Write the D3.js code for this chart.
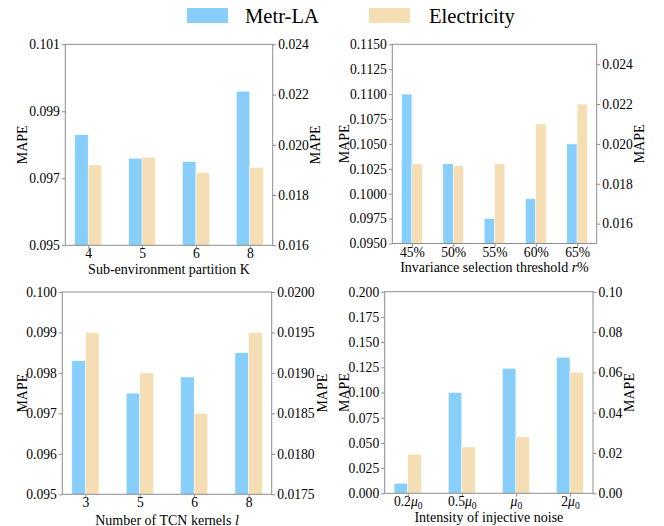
<!DOCTYPE html>
<html>
<head>
<meta charset="utf-8">
<script src="https://cdn.jsdelivr.net/npm/d3@7"></script>
<style>
  body { margin: 0; background: #fff; }
  svg text { font-family: "Liberation Serif", "Times New Roman", serif; fill: #000; }
</style>
</head>
<body>
<svg id="chart" width="664" height="526"></svg>
<script>
// ── Data ──
const seriesNames = ['Metr-LA', 'Electricity'];

const partitionCats = ['4', '5', '6', '8'];
const partitionMetr = [0.0983, 0.0976, 0.0975, 0.0996];
const partitionElec = [0.0192, 0.0195, 0.0189, 0.0191];

const thresholdCats = ['45%', '50%', '55%', '60%', '65%'];
const thresholdMetr = [0.1100, 0.1030, 0.0975, 0.0995, 0.1050];
const thresholdElec = [0.0190, 0.0189, 0.0190, 0.0210, 0.0220];

const kernelCats = ['3', '5', '6', '8'];
const kernelMetr = [0.0983, 0.0975, 0.0979, 0.0985];
const kernelElec = [0.0195, 0.0190, 0.0185, 0.0195];

const noiseCats = ['0.2μ0', '0.5μ0', 'μ0', '2μ0'];
const noiseMetr = [0.010, 0.100, 0.124, 0.135];
const noiseElec = [0.0193, 0.023, 0.028, 0.060];

// axis ticks
const partitionLeftTicks = [0.095, 0.097, 0.099, 0.101];
const partitionRightTicks = [0.016, 0.018, 0.020, 0.022, 0.024];
const thresholdLeftTicks = [0.0950, 0.0975, 0.1000, 0.1025, 0.1050, 0.1075, 0.1100, 0.1125, 0.1150];
const thresholdRightTicks = [0.016, 0.018, 0.020, 0.022, 0.024];
const kernelLeftTicks = [0.095, 0.096, 0.097, 0.098, 0.099, 0.100];
const kernelRightTicks = [0.0175, 0.0180, 0.0185, 0.0190, 0.0195, 0.0200];
const noiseLeftTicks = [0.000, 0.025, 0.050, 0.075, 0.100, 0.125, 0.150, 0.175, 0.200];
const noiseRightTicks = [0.00, 0.02, 0.04, 0.06, 0.08, 0.10];

const COLORS = ['#87CEFA', '#F5DEB3'];
const SPINE = '#8c8c8c';

const svg = d3.select('#chart');

// ── Legend ──
const legend = svg.append('g');
const legendPos = [{ x: 187, tx: 245 }, { x: 369, tx: 429 }];
seriesNames.forEach((name, i) => {
  legend.append('rect')
    .attr('x', legendPos[i].x).attr('y', 8)
    .attr('width', 41).attr('height', 15)
    .attr('fill', COLORS[i]);
  legend.append('text')
    .attr('x', legendPos[i].tx).attr('y', 22.5)
    .attr('font-size', '20.6px')
    .text(name);
});

// ── Panels ──
function drawPanel(p) {
  const n = p.cats.length;
  const width = p.x1 - p.x0;
  const height = p.y1 - p.y0;
  const g = svg.append('g').attr('transform', `translate(${p.x0},${p.y0})`);

  // matplotlib-like margins: bars of width .25 each side, 5% padding
  const pad = 0.25 + 0.05 * (n - 0.5);
  const x = d3.scalePoint().domain(d3.range(n)).range([0, width]).padding(pad);
  const bw = x.step() * 0.25;

  const yL = d3.scaleLinear().domain(p.leftDomain).range([height, 0]);
  const yR = d3.scaleLinear().domain(p.rightDomain).range([height, 0]);

  // Bars
  g.selectAll('.metr')
    .data(p.metr)
    .enter().append('rect')
    .attr('x', (d, i) => x(i) - bw)
    .attr('y', d => yL(d))
    .attr('width', bw)
    .attr('height', d => height - yL(d))
    .attr('fill', COLORS[0])
    .attr('stroke', '#fff').attr('stroke-width', 0.5);

  g.selectAll('.elec')
    .data(p.elec)
    .enter().append('rect')
    .attr('x', (d, i) => x(i))
    .attr('y', d => yR(d))
    .attr('width', bw)
    .attr('height', d => height - yR(d))
    .attr('fill', COLORS[1])
    .attr('stroke', '#fff').attr('stroke-width', 0.5);

  // Axes
  const left = g.append('g')
    .call(d3.axisLeft(yL).tickValues(p.leftTicks).tickFormat(d3.format(p.leftFmt)).tickSize(3.5).tickPadding(2));
  const right = g.append('g')
    .attr('transform', `translate(${width},0)`)
    .call(d3.axisRight(yR).tickValues(p.rightTicks).tickFormat(d3.format(p.rightFmt)).tickSize(3.5).tickPadding(2));
  const bottom = g.append('g')
    .attr('transform', `translate(0,${height})`)
    .call(d3.axisBottom(x).tickSize(3.5).tickPadding(0).tickFormat(i => p.cats[i]));

  [left, right, bottom].forEach(ax => {
    ax.selectAll('.domain').remove();
    ax.selectAll('line').attr('stroke', SPINE);
    ax.selectAll('text').attr('font-size', '13.6px').attr('fill', '#000')
      .style('font-family', '"Liberation Serif", "Times New Roman", serif');
  });

  if (p.mathTicks) {
    bottom.selectAll('text').each(function (d) {
      const t = d3.select(this);
      const pre = p.cats[d].replace('μ0', '');
      t.text(null);
      t.append('tspan').text(pre);
      t.append('tspan').attr('font-style', 'italic').text('μ');
      t.append('tspan').attr('font-size', '9.5px').attr('dy', 2.5).text('0');
    });
  }

  // Spines
  g.append('rect')
    .attr('width', width).attr('height', height)
    .attr('fill', 'none').attr('stroke', SPINE).attr('stroke-width', 1);

  // Axis titles
  g.append('text')
    .attr('transform', `translate(${p.leftLabelX - p.x0},${height / 2}) rotate(-90)`)
    .attr('text-anchor', 'middle').attr('dy', '0.35em')
    .attr('font-size', '14px')
    .text('MAPE');
  g.append('text')
    .attr('transform', `translate(${p.rightLabelX - p.x0},${height / 2}) rotate(-90)`)
    .attr('text-anchor', 'middle').attr('dy', '0.35em')
    .attr('font-size', '14px')
    .text('MAPE');

  const title = g.append('text')
    .attr('x', width / 2).attr('y', p.titleY - p.y0)
    .attr('text-anchor', 'middle')
    .attr('font-size', '14px');
  p.title.forEach(part => {
    const ts = title.append('tspan').text(part.t);
    if (part.i) ts.attr('font-style', 'italic');
  });
}

drawPanel({
  x0: 65.3, x1: 272.7, y0: 44.3, y1: 245.3,
  cats: partitionCats, metr: partitionMetr, elec: partitionElec,
  leftDomain: [0.095, 0.101], rightDomain: [0.016, 0.024],
  leftTicks: partitionLeftTicks, rightTicks: partitionRightTicks,
  leftFmt: '.3f', rightFmt: '.3f',
  leftLabelX: 21.7, rightLabelX: 315,
  titleY: 274.5,
  title: [{ t: 'Sub-environment partition K' }]
});

drawPanel({
  x0: 392.3, x1: 596.7, y0: 44.3, y1: 243.5,
  cats: thresholdCats, metr: thresholdMetr, elec: thresholdElec,
  leftDomain: [0.095, 0.115], rightDomain: [0.015, 0.025],
  leftTicks: thresholdLeftTicks, rightTicks: thresholdRightTicks,
  leftFmt: '.4f', rightFmt: '.3f',
  leftLabelX: 343.7, rightLabelX: 638.7,
  titleY: 272,
  title: [{ t: 'Invariance selection threshold ' }, { t: 'r', i: true }, { t: '%' }]
});

drawPanel({
  x0: 62.3, x1: 271.7, y0: 292, y1: 494.3,
  cats: kernelCats, metr: kernelMetr, elec: kernelElec,
  leftDomain: [0.095, 0.100], rightDomain: [0.0175, 0.0200],
  leftTicks: kernelLeftTicks, rightTicks: kernelRightTicks,
  leftFmt: '.3f', rightFmt: '.4f',
  leftLabelX: 21.7, rightLabelX: 321.7,
  titleY: 524.5,
  title: [{ t: 'Number of TCN kernels ' }, { t: 'l', i: true }]
});

drawPanel({
  x0: 384.7, x1: 593, y0: 291.7, y1: 493.3,
  cats: noiseCats, metr: noiseMetr, elec: noiseElec,
  leftDomain: [0, 0.2], rightDomain: [0, 0.1],
  leftTicks: noiseLeftTicks, rightTicks: noiseRightTicks,
  leftFmt: '.3f', rightFmt: '.2f',
  leftLabelX: 343.7, rightLabelX: 628.7,
  titleY: 522.5,
  mathTicks: true,
  title: [{ t: 'Intensity of injective noise' }]
});
</script>
</body>
</html>
